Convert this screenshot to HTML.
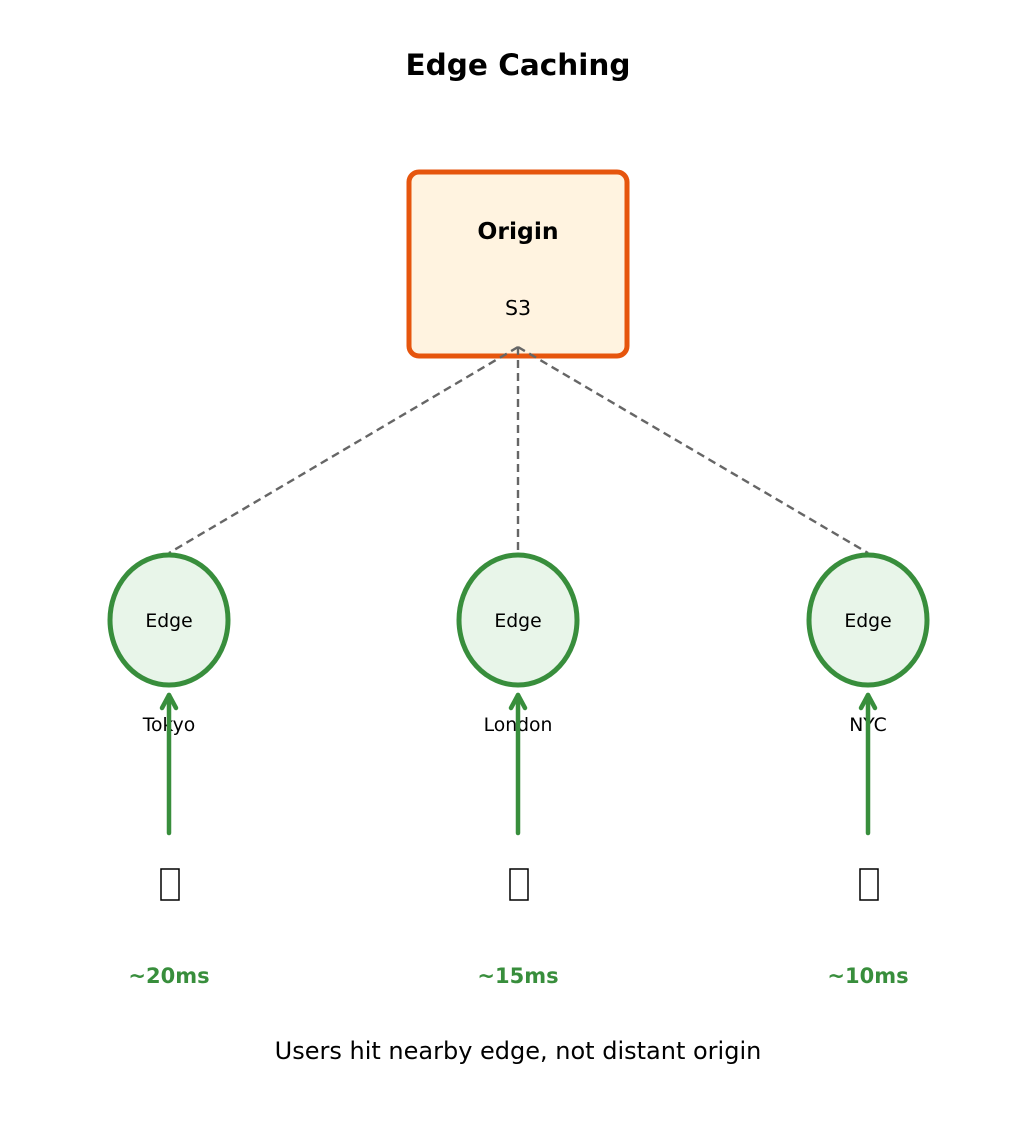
<!DOCTYPE html>
<html><head><style>body{margin:0;background:#fff}svg{display:block}text{font-family:"DejaVu Sans","Liberation Sans",sans-serif}</style></head>
<body>
<svg width="1036" height="1132" viewBox="0 0 1036 1132">
<text x="518" y="75" font-size="29.5" font-weight="bold" text-anchor="middle">Edge Caching</text>
<rect x="409" y="172" width="218" height="184" rx="10" fill="#fff3e0" stroke="#e6550d" stroke-width="5"/>
<text x="518" y="239" font-size="23.5" font-weight="bold" text-anchor="middle">Origin</text>
<text x="518" y="315" font-size="20.5" text-anchor="middle">S3</text>
<g stroke="#666" stroke-width="2.4" stroke-dasharray="8,5" fill="none">
<line x1="518" y1="347" x2="169" y2="553"/><line x1="518" y1="347" x2="518" y2="553"/><line x1="518" y1="347" x2="868" y2="553"/>
</g>
<ellipse cx="169" cy="620" rx="59" ry="65" fill="#e8f5e9" stroke="#388e3c" stroke-width="5"/>
<text x="169" y="627" font-size="18.8" text-anchor="middle">Edge</text>
<ellipse cx="518" cy="620" rx="59" ry="65" fill="#e8f5e9" stroke="#388e3c" stroke-width="5"/>
<text x="518" y="627" font-size="18.8" text-anchor="middle">Edge</text>
<ellipse cx="868" cy="620" rx="59" ry="65" fill="#e8f5e9" stroke="#388e3c" stroke-width="5"/>
<text x="868" y="627" font-size="18.8" text-anchor="middle">Edge</text>
<g font-size="18.8" text-anchor="middle">
<text x="169" y="731">Tokyo</text><text x="518" y="731">London</text><text x="868" y="731">NYC</text>
</g>
<g stroke="#388e3c" stroke-width="4.5" fill="none" stroke-linecap="round" stroke-linejoin="round">
<line x1="169" y1="833" x2="169" y2="695"/><polyline points="162,708 169,695 176,708"/>
<line x1="518" y1="833" x2="518" y2="695"/><polyline points="511,708 518,695 525,708"/>
<line x1="868" y1="833" x2="868" y2="695"/><polyline points="861,708 868,695 875,708"/>
</g>
<g fill="none" stroke="#000" stroke-width="1.5">
<rect x="161" y="869" width="18" height="31"/><rect x="510" y="869" width="18" height="31"/><rect x="860" y="869" width="18" height="31"/>
</g>
<g font-size="21" font-weight="bold" fill="#388e3c" text-anchor="middle">
<text x="169" y="983">~20ms</text><text x="518" y="983">~15ms</text><text x="868" y="983">~10ms</text>
</g>
<text x="518" y="1059" font-size="24" text-anchor="middle">Users hit nearby edge, not distant origin</text>
</svg>
</body></html>
